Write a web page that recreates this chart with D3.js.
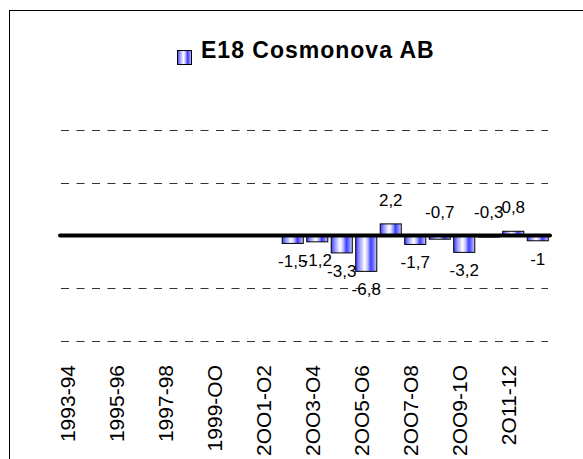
<!DOCTYPE html>
<html>
<head>
<meta charset="utf-8">
<script src="https://cdn.jsdelivr.net/npm/d3@7"></script>
<style>
    body { margin: 0; background: #fff; }
    svg { display: block; font-family: 'Liberation Sans', Arial, sans-serif; }
</style>
</head>
<body>
<script>
// categories (seasons), one bar each
let seasons = ['1993-94','1994-95','1995-96','1996-97','1997-98','1998-99','1999-OO','2OOO-O1',
    '2OO1-O2','2OO2-O3','2OO3-O4','2OO4-O5','2OO5-O6','2OO6-O7','2OO7-O8','2OO8-O9','2OO9-1O',
    '2O1O-11','2O11-12','2O12-13'];
// result per season, null = no value
let values = [null,null,null,null,null,null,null,null,null,
    -1.5,-1.2,-3.3,-6.8,2.2,-1.7,-0.7,-3.2,-0.3,0.8,-1];
// only every second season gets a label on the axis
let tickLabels = ['1993-94','1995-96','1997-98','1999-OO','2OO1-O2','2OO3-O4','2OO5-O6','2OO7-O8','2OO9-1O','2O11-12'];
let seriesName = 'E18 Cosmonova AB';
let yDomain = [-20, 20];

function BarChart(container = 'body', width = 583, height = 459){

    let margins = {top: 130, right: 33, bottom: 118, left: 60};

    let svg = d3.select(container).append('svg')
        .attr('width', width)
        .attr('height', height);

    let defs = svg.append('defs');
    let grad = defs.append('linearGradient')
        .attr('id', 'barFill')
        .attr('x1', '0%').attr('x2', '100%')
        .attr('y1', '0%').attr('y2', '0%');
    [[0,'#3c3cff'],[0.18,'#9a9aff'],[0.42,'#ffffff'],[0.55,'#c8c8ff'],[0.72,'#3c3cff'],[0.86,'#8080ff'],[1,'#d4d4ff']]
        .forEach(s=>{
            grad.append('stop').attr('offset', s[0]).attr('stop-color', s[1]);
        });

    // outer chart frame (runs off the right and bottom edge)
    svg.append('rect')
        .attr('x', 9.5).attr('y', 10.5)
        .attr('width', width + 20).attr('height', height + 20)
        .attr('fill', 'none')
        .attr('stroke', '#000')
        .attr('stroke-width', 1);

    let data = seasons.map((s,i)=>{return {season:s, value:values[i]}});

    let xScale = d3.scaleBand()
        .domain(seasons)
        .range([margins.left, width - margins.right])
        .paddingInner(0.14)
        .paddingOuter(0.07);
    let yScale = d3.scaleLinear()
        .domain(yDomain)
        .range([height - margins.bottom, margins.top]);

    // dashed gridlines
    svg.append('g').selectAll('line')
        .data(yScale.ticks(4).filter(d=>d !== 0))
        .enter().append('line')
        .attr('x1', margins.left + 1)
        .attr('x2', width - margins.right - 2)
        .attr('y1', d=>Math.round(yScale(d)) + 0.5)
        .attr('y2', d=>Math.round(yScale(d)) + 0.5)
        .attr('stroke', '#333')
        .attr('stroke-width', 1)
        .attr('stroke-dasharray', '8,7.5');

    // bars
    let filled = data.filter(d=>d.value !== null);
    svg.append('g').selectAll('rect')
        .data(filled)
        .enter().append('rect')
        .attr('x', d=>xScale(d.season))
        .attr('width', xScale.bandwidth())
        .attr('y', d=>yScale(Math.max(0, d.value)))
        .attr('height', d=>Math.abs(yScale(d.value) - yScale(0)))
        .attr('fill', 'url(#barFill)')
        .attr('stroke', '#000')
        .attr('stroke-width', 1);

    // zero line
    svg.append('line')
        .attr('x1', xScale.range()[0])
        .attr('x2', xScale.range()[1])
        .attr('y1', yScale(0))
        .attr('y2', yScale(0))
        .attr('stroke', '#000')
        .attr('stroke-width', 4)
        .attr('stroke-linecap', 'round');

    // value labels
    svg.append('g').selectAll('text')
        .data(filled)
        .enter().append('text')
        .attr('x', d=>xScale(d.season) + xScale.bandwidth()/2)
        .attr('y', d=>d.value > -1 ? Math.min(yScale(d.value), yScale(0)) - 18 : yScale(d.value) + 24)
        .attr('text-anchor', 'middle')
        .attr('font-size', 17)
        .attr('fill', '#000')
        .text(d=>String(d.value).replace('.', ','));

    // category axis, vertical labels
    let xAxis = svg.append('g')
        .attr('transform', `translate(0,${height - margins.bottom})`)
        .call(d3.axisBottom(xScale)
            .tickSize(0)
            .tickFormat(d=>tickLabels.includes(d) ? d : ''));
    xAxis.select('.domain').remove();
    xAxis.selectAll('text')
        .attr('transform', 'rotate(-90)')
        .attr('x', -24)
        .attr('y', 3)
        .attr('dy', 0)
        .attr('text-anchor', 'end')
        .attr('font-size', 21)
        .attr('font-family', "'Liberation Sans', Arial, sans-serif")
        .attr('fill', '#000');

    // legend used as title
    let legend = svg.append('g');
    legend.append('rect')
        .attr('x', 177.5).attr('y', 50.5)
        .attr('width', 14).attr('height', 14)
        .attr('fill', 'url(#barFill)')
        .attr('stroke', '#000');
    legend.append('text')
        .attr('x', 201)
        .attr('y', 58)
        .attr('font-size', 23)
        .attr('font-weight', 'bold')
        .attr('letter-spacing', 1)
        .text(seriesName);

    return svg;
}

BarChart('body', 583, 459);
</script>
</body>
</html>
